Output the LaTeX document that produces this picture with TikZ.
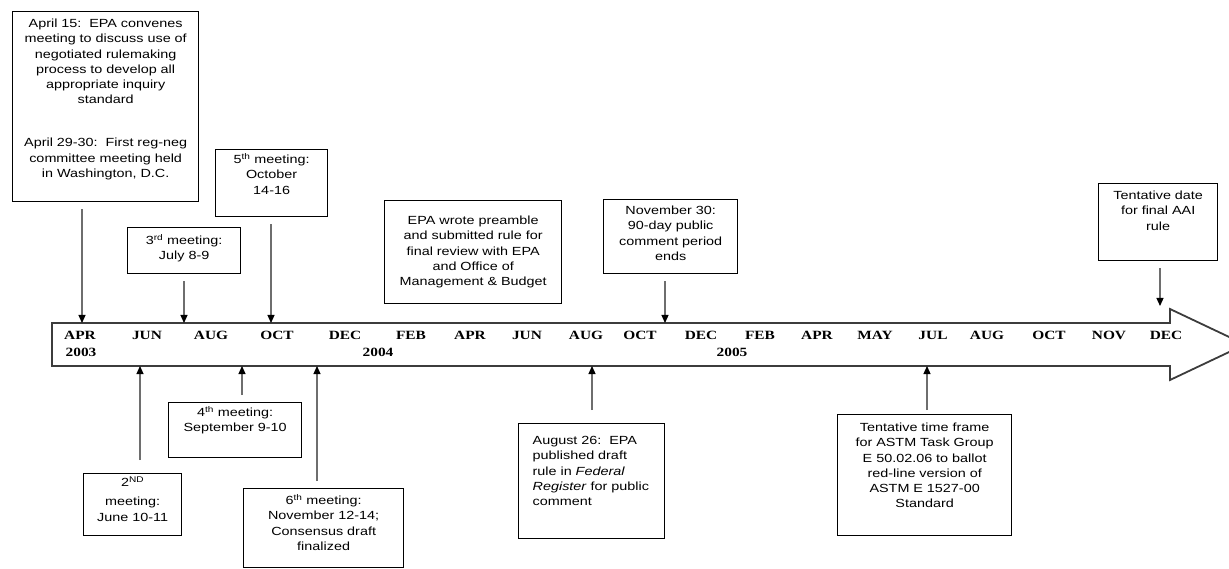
\documentclass[tikz,border=0pt]{standalone}
\usepackage{fontspec}
\newfontfamily\boxfont{Liberation Sans}[FakeStretch=1.22]
\newfontfamily\tlfont{Liberation Serif}[FakeStretch=1.22]
\usetikzlibrary{arrows.meta}
\definecolor{bandgray}{RGB}{60,60,60}
\definecolor{linkgray}{RGB}{110,110,110}

\begin{document}
\begin{tikzpicture}[x=1pt, y=-1pt,
  evbox/.style={draw=black, line width=1.3pt, fill=white, anchor=north west, align=center, inner xsep=2pt, inner ysep=0pt, font=\boxfont\fontsize{11.8}{15.2}\selectfont},
  month/.style={anchor=base, inner sep=0pt, font=\tlfont\bfseries\fontsize{12.6}{15}\selectfont},
  evarrow/.style={draw=linkgray, line width=1.2pt, shorten <=7pt, -{Triangle[length=8pt, width=7pt, color=black]}}
]
  \useasboundingbox (0,0) rectangle (1229,569);

  % time line
  \draw[draw=bandgray, line width=1.8pt, line join=miter] (52,323) -- (1170,323) -- (1170,309) -- (1245,344.5)
    -- (1170,380) -- (1170,366) -- (52,366) -- cycle;
  \node[month] (mApr03) at (80,340) {APR};
  \node[month] (mJun03) at (147,340) {JUN};
  \node[month] (mAug03) at (211,340) {AUG};
  \node[month] (mOct03) at (277,340) {OCT};
  \node[month] (mDec03) at (345,340) {DEC};
  \node[month] (mFeb04) at (411,340) {FEB};
  \node[month] (mApr04) at (470,340) {APR};
  \node[month] (mJun04) at (527,340) {JUN};
  \node[month] (mAug04) at (586,340) {AUG};
  \node[month] (mOct04) at (640,340) {OCT};
  \node[month] (mDec04) at (701,340) {DEC};
  \node[month] (mFeb05) at (760,340) {FEB};
  \node[month] (mApr05) at (817,340) {APR};
  \node[month] (mMay05) at (875,340) {MAY};
  \node[month] (mJul05) at (933,340) {JUL};
  \node[month] (mAug05) at (987,340) {AUG};
  \node[month] (mOct05) at (1049,340) {OCT};
  \node[month] (mNov05) at (1109,340) {NOV};
  \node[month] (mDec05) at (1166,340) {DEC};
  \node[month] (y2003) at (81,356) {2003};
  \node[month] (y2004) at (378,356) {2004};
  \node[month] (y2005) at (732,356) {2005};

  % arrow ends on the time line
  \coordinate (tApr03) at (82,323);
  \coordinate (tJul03) at (184,323);
  \coordinate (tOct03) at (271,323);
  \coordinate (tNov04) at (665,323);
  \coordinate (tDec05) at (1160,306);
  \coordinate (bJun03) at (140,366);
  \coordinate (bSep03) at (242,366);
  \coordinate (bNov03) at (317,366);
  \coordinate (bAug04) at (592,366);
  \coordinate (bJul05) at (927,366);

  % events above
  \node[evbox, text width=182pt, text height=16pt, text depth=174pt] (apr15) at (12,11) {
    April 15:\ \ EPA convenes\\ meeting to discuss use of\\ negotiated rulemaking\\ process to develop all\\
    appropriate inquiry\\ standard\\[28pt]
    April 29-30:\ \ First reg-neg\\ committee meeting held\\ in Washington, D.C.
  };
  \node[evbox, text width=109pt, text height=17pt, text depth=29pt] (mtg3) at (127,227) {
    3\textsuperscript{rd} meeting:\\ July 8-9
  };
  \node[evbox, text width=108pt, text height=14pt, text depth=53pt] (mtg5) at (215,149) {
    5\textsuperscript{th} meeting:\\ October\\ 14-16
  };
  \node[evbox, text width=173pt, text height=24pt, text depth=79pt] (epawrote) at (384,200) {
    EPA wrote preamble\\ and submitted rule for\\ final review with EPA\\ and Office of\\ Management \& Budget
  };
  \node[evbox, text width=130pt, text height=15pt, text depth=59pt] (nov30) at (603,199) {
    November 30:\\ 90-day public\\ comment period\\ ends
  };
  \node[evbox, text width=115pt, text height=16pt, text depth=61pt] (finalrule) at (1098,183) {
    Tentative date\\ for final AAI\\ rule
  };

  % events below
  \node[evbox, text width=94pt, text height=13pt, text depth=49pt] (mtg2) at (83,473) {
    2\textsuperscript{ND}\\[4pt] meeting:\\ June 10-11
  };
  \node[evbox, text width=129pt, text height=14pt, text depth=41pt] (mtg4) at (168,402) {
    4\textsuperscript{th} meeting:\\ September 9-10
  };
  \node[evbox, text width=156pt, text height=16pt, text depth=63pt] (mtg6) at (243,488) {
    6\textsuperscript{th} meeting:\\ November 12-14;\\ Consensus draft\\ finalized
  };
  \node[evbox, align=left, text width=118pt, inner xsep=14pt, text height=21pt, text depth=94pt] (aug26) at (518,423) {
    August 26:\ \ EPA\\ published draft\\ rule in \textit{Federal}\\ \textit{Register} for public\\ comment
  };
  \node[evbox, text width=170pt, text height=17pt, text depth=104pt] (astm) at (837,414) {
    Tentative time frame\\ for ASTM Task Group\\ E 50.02.06 to ballot\\ red-line version of\\ ASTM E 1527-00\\ Standard
  };

  % connectors
  \draw[evarrow] (apr15.south -| tApr03) -- (tApr03);
  \draw[evarrow] (mtg3.south -| tJul03) -- (tJul03);
  \draw[evarrow] (mtg5.south -| tOct03) -- (tOct03);
  \draw[evarrow] (nov30.south -| tNov04) -- (tNov04);
  \draw[evarrow] (finalrule.south -| tDec05) -- (tDec05);
  \draw[evarrow, shorten <=13pt] (mtg2.north -| bJun03) -- (bJun03);
  \draw[evarrow] (mtg4.north -| bSep03) -- (bSep03);
  \draw[evarrow] (mtg6.north -| bNov03) -- (bNov03);
  \draw[evarrow, shorten <=13pt] (aug26.north -| bAug04) -- (bAug04);
  \draw[evarrow, shorten <=4pt] (astm.north -| bJul05) -- (bJul05);
\end{tikzpicture}
\end{document}
